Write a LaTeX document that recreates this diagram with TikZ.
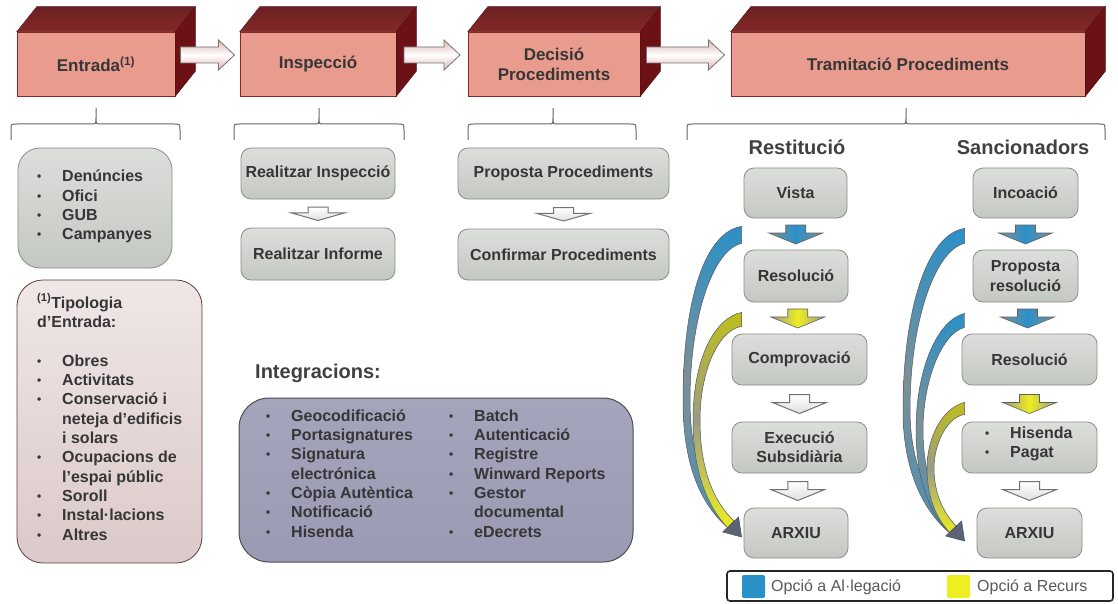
\documentclass[tikz,border=0pt]{standalone}
\usepackage{fontspec}
\setmainfont{Liberation Sans}
\usetikzlibrary{calc}

\definecolor{salmon}{HTML}{E99B8D}
\definecolor{topred}{HTML}{86282A}
\definecolor{sidered}{HTML}{6C1217}
\definecolor{txtgray}{HTML}{363636}
\definecolor{headgray}{HTML}{404040}
\definecolor{boxgray}{HTML}{C4C8C2}
\definecolor{boxline}{HTML}{8C8C8C}
\definecolor{pinkbox}{HTML}{DCC9C9}
\definecolor{lilac}{HTML}{9A9AB4}
\definecolor{alblue}{HTML}{2A90C8}
\definecolor{reyellow}{HTML}{EEEE22}
\definecolor{slate}{HTML}{7C9098}
\definecolor{olivegray}{HTML}{9A9C84}
\definecolor{headslate}{HTML}{5C6474}

\newcommand{\itm}[1]{\makebox[25pt][l]{\raisebox{1pt}{\fontsize{12}{12}\selectfont\textbullet}}#1}

\tikzset{
  stage/.style={rectangle, draw=topred, line width=0.6pt, fill=salmon,
    minimum height=64pt, inner sep=0pt, text=txtgray, align=center,
    font=\fontsize{17}{20}\selectfont\bfseries},
  topface/.style={draw=topred!70!black, line width=0.4pt, top color=topred!80!black, bottom color=topred},
  sideface/.style={draw=sidered!70!black, line width=0.4pt, fill=sidered},
  stepbox/.style={rectangle, rounded corners=10pt, draw=boxline, line width=0.8pt,
    top color=boxgray!60!white, bottom color=boxgray, text=txtgray, align=center,
    inner sep=0pt, font=\fontsize{16}{19.35}\selectfont\bfseries},
  listtext/.style={align=left, inner sep=0pt, text=txtgray,
    font=\fontsize{16}{19.35}\selectfont\bfseries},
  heading/.style={inner sep=0pt, text=headgray, font=\fontsize{20}{24}\selectfont\bfseries},
  hollowflow/.style={draw=gray!90!black, line width=1pt, top color=white, bottom color=gray!25},
  blueflow/.style={draw=gray!75!black, line width=0.6pt, left color=slate, right color=slate, middle color=alblue},
  yellowflow/.style={draw=gray!75!black, line width=0.6pt, left color=olivegray, right color=olivegray, middle color=reyellow},
  flowfill/.style={draw=gray!90!black, line width=0.8pt, top color=pinkbox!90!red, bottom color=pinkbox!90!red, middle color=white},
  alband/.style={draw=gray!70!black, line width=0.5pt, top color=alblue, bottom color=alblue!60!slate, middle color=slate},
  recband/.style={draw=gray!70!black, line width=0.5pt, top color=reyellow!80!black, bottom color=reyellow, middle color=olivegray},
  curvehead/.style={fill=headslate, draw=headslate!80!black, line width=0.5pt},
  bracket/.style={draw=gray!80!black, line width=1pt},
  pics/downarrow/.style={code={
    \draw[#1] (-10,-9) -- (10,-9) -- (10,-1) -- (27,-1) -- (0,10) -- (-27,-1) -- (-10,-1) -- cycle;
  }},
  pics/flowarrow/.style={code={
    \draw[flowfill] (-#1,-8) -- (#1-16,-8) -- (#1-16,-15) -- (#1,0) -- (#1-16,15) -- (#1-16,8) -- (-#1,8) -- cycle;
  }},
}

\begin{document}
\begin{tikzpicture}[x=1pt, y=-1pt]
\useasboundingbox (0,0) rectangle (1118,604);
\fill[white] (0,0) rectangle (1118,604);

% stages
\node[stage, minimum width=158pt] (entrada) at (96,64) {Entrada\textsuperscript{(1)}};
\node[stage, minimum width=156pt] (inspeccio) at (318,64) {Inspecció};
\node[stage, minimum width=172pt] (decisio) at (554,64) {Decisió\\Procediments};
\node[stage, minimum width=354pt] (tramitacio) at (908,64) {Tramitació Procediments};
\foreach \b in {entrada, inspeccio, decisio, tramitacio} {
  \draw[topface] (\b.north west) -- ++(20,-25) -- ($(\b.north east)+(20,-25)$) -- (\b.north east) -- cycle;
  \draw[sideface] (\b.north east) -- ++(20,-25) -- ($(\b.south east)+(20,-25)$) -- (\b.south east) -- cycle;
}
\pic at ($(entrada.east)!.5!(inspeccio.west)+(0,-9)$) {flowarrow=27};
\pic at ($(inspeccio.east)!.5!(decisio.west)+(0,-9)$) {flowarrow=28};
\pic at ($(decisio.east)!.5!(tramitacio.west)+(0,-9)$) {flowarrow=39};

% brackets
\foreach \l/\m/\r in {11/96/180, 234/319/404, 468/553/636, 687/906/1105}
  \draw[bracket] (\l,140) -- (\l,130) .. controls (\l,124) .. (\l+6,124) -- (\m-5,124)
    .. controls (\m,124) .. (\m,118) -- (\m,108) -- (\m,118) .. controls (\m,124) .. (\m+5,124)
    -- (\r-6,124) .. controls (\r,124) .. (\r,130) -- (\r,140);

% entrada
\node[stepbox, rounded corners=22pt, minimum width=154pt, minimum height=120pt] (entrades) at (95,208) {};
\node[listtext, anchor=west] (entradesTxt) at (37,206.5) {\itm{Denúncies}\\\itm{Ofici}\\\itm{GUB}\\\itm{Campanyes}};
\node[stepbox, rounded corners=26pt, draw=gray!80!red!60!black, top color=pinkbox!45!white, bottom color=pinkbox,
  minimum width=185pt, minimum height=283pt] (tipologia) at (109.5,421.5) {};
\node[listtext, anchor=west] (tipologiaTxt) at (37,417) {\textsuperscript{(1)}Tipologia\\d’Entrada:\\[19.35pt]
  \itm{Obres}\\\itm{Activitats}\\\itm{Conservació i}\\\hspace*{25pt}neteja d’edificis\\\hspace*{25pt}i solars\\
  \itm{Ocupacions de}\\\hspace*{25pt}l’espai públic\\\itm{Soroll}\\\itm{Instal·lacions}\\\itm{Altres}};

% inspeccio
\node[stepbox, minimum width=154pt, minimum height=51pt] (realInsp) at (318,173.5) {Realitzar Inspecció};
\node[stepbox, minimum width=154pt, minimum height=52pt] (realInf) at (318,254) {Realitzar Informe};
\pic[yscale=0.7] at ($(realInsp.south)!.5!(realInf.north)$) {downarrow=hollowflow};

% decisio
\node[stepbox, minimum width=211pt, minimum height=51pt] (propProc) at (563.5,173.5) {Proposta Procediments};
\node[stepbox, minimum width=211pt, minimum height=51pt] (confProc) at (563.5,254.5) {Confirmar Procediments};
\pic[yscale=0.7] at ($(propProc.south)!.5!(confProc.north)$) {downarrow=hollowflow};

% integracions
\node[heading, anchor=west] (integTitle) at (255,373) {Integracions:};
\node[rectangle, rounded corners=30pt, draw=black!70, line width=1pt, top color=lilac!90!white, bottom color=lilac,
  minimum width=394pt, minimum height=164pt] (integ) at (436,480) {};
\node[listtext, anchor=west] (integA) at (266,473.5) {\itm{Geocodificació}\\\itm{Portasignatures}\\\itm{Signatura}\\
  \hspace*{25pt}electrónica\\\itm{Còpia Autèntica}\\\itm{Notificació}\\\itm{Hisenda}};
\node[listtext, anchor=west] (integB) at (449,473.5) {\itm{Batch}\\\itm{Autenticació}\\\itm{Registre}\\
  \itm{Winward Reports}\\\itm{Gestor}\\\hspace*{25pt}documental\\\itm{eDecrets}};

% restitucio
\node[heading] (restitucio) at (797,147) {Restitució};
\node[stepbox, minimum width=103pt, minimum height=50pt] (vista) at (795.5,193) {Vista};
\node[stepbox, minimum width=104pt, minimum height=52pt] (resR) at (796,276) {Resolució};
\node[stepbox, minimum width=135pt, minimum height=51pt] (comprov) at (799.5,359.5) {Comprovació};
\node[stepbox, minimum width=135pt, minimum height=51pt] (execucio) at (799.5,447.5) {Execució\\Subsidiària};
\node[stepbox, minimum width=104pt, minimum height=50pt] (arxR) at (796,533) {ARXIU};
\pic at ($(vista.south)!.5!(resR.north)$) {downarrow=blueflow};
\pic at ($(resR.south)!.5!(comprov.north)$) {downarrow=yellowflow};
\pic at ($(comprov.south)!.5!(execucio.north)$) {downarrow=hollowflow};
\pic at ($(execucio.south)!.5!(arxR.north)$) {downarrow=hollowflow};

% sancionadors
\node[heading] (sancionadors) at (1023,147) {Sancionadors};
\node[stepbox, minimum width=105pt, minimum height=50pt] (incoacio) at (1025.5,193) {Incoació};
\node[stepbox, minimum width=105pt, minimum height=52pt] (propRes) at (1025.5,276) {Proposta\\resolució};
\node[stepbox, minimum width=135pt, minimum height=51pt] (resS) at (1029.5,359.5) {Resolució};
\node[stepbox, minimum width=135pt, minimum height=51pt] (hisenda) at (1029.5,447.5) {};
\node[listtext, anchor=west] (hisendaTxt) at (985,444) {\itm{Hisenda}\\\itm{Pagat}};
\node[stepbox, minimum width=105pt, minimum height=50pt] (arxS) at (1029.5,533) {ARXIU};
\pic at ($(incoacio.south)!.5!(propRes.north)$) {downarrow=blueflow};
\pic at ($(propRes.south)!.5!(resS.north)$) {downarrow=blueflow};
\pic at ($(resS.south)!.5!(hisenda.north)$) {downarrow=yellowflow};
\pic at ($(hisenda.south)!.5!(arxS.north)$) {downarrow=hollowflow};

% options back to arxiu
\coordinate (alR) at ($(vista.south west)+(-2,8)$);
\coordinate (recR) at ($(resR.south west)+(-2,10)$);
\coordinate (tipR) at ($(arxR.west)+(-2,4)$);
\draw[alband] (alR) .. controls (705,232) and (683,300) .. (683,400) .. controls (683,468) and (702,505) .. (728,528)
  -- (734,521) .. controls (710,500) and (690,465) .. (690,400) .. controls (690,320) and (712,250) .. ($(alR)+(0,17)$) -- cycle;
\draw[recband] (recR) .. controls (714,318) and (693,360) .. (693,420) .. controls (693,470) and (706,505) .. (728,528)
  -- (734,521) .. controls (714,502) and (700,470) .. (700,420) .. controls (700,372) and (718,330) .. ($(recR)+(0,14)$) -- cycle;
\draw[curvehead] (tipR) -- ++(-19,-5) -- ++(16,-15) -- cycle;

\coordinate (alS1) at ($(incoacio.south west)+(-8,10)$);
\coordinate (alS2) at ($(propRes.south west)+(-8,11)$);
\coordinate (recS) at ($(resS.south west)+(3,17)$);
\coordinate (tipS) at ($(arxS.west)+(-12,8)$);
\draw[alband] (alS1) .. controls (927,234) and (903,310) .. (903,410) .. controls (903,472) and (924,512) .. (951,534)
  -- (957,527) .. controls (932,508) and (910,468) .. (910,410) .. controls (910,322) and (935,250) .. ($(alS1)+(0,15)$) -- cycle;
\draw[alband] (alS2) .. controls (937,320) and (916,370) .. (916,430) .. controls (916,480) and (930,515) .. (951,534)
  -- (957,527) .. controls (938,510) and (923,478) .. (923,430) .. controls (923,380) and (942,333) .. ($(alS2)+(0,14)$) -- cycle;
\draw[recband] (recS) .. controls (942,408) and (927,438) .. (927,468) .. controls (927,498) and (936,518) .. (951,534)
  -- (957,527) .. controls (944,514) and (934,494) .. (934,468) .. controls (934,444) and (947,417) .. ($(recS)+(0,12)$) -- cycle;
\draw[curvehead] (tipS) -- ++(-19,-5) -- ++(16,-15) -- cycle;

% legend
\node[draw=black!85, line width=1.6pt, rounded corners=3pt, fill=white, minimum width=386pt, minimum height=30pt] (legend) at (920,586) {};
\node[fill=alblue, rounded corners=2pt, minimum size=23pt, inner sep=0pt] (sqBlue) at (753.5,586.5) {};
\node[anchor=west, inner sep=0pt, text=black!65, font=\fontsize{16}{19}\selectfont] (txtBlue) at (771,587) {Opció a Al·legació};
\node[fill=reyellow, rounded corners=2pt, minimum size=23pt, inner sep=0pt] (sqYellow) at (958.5,586.5) {};
\node[anchor=west, inner sep=0pt, text=black!65, font=\fontsize{16}{19}\selectfont] (txtYellow) at (977,587) {Opció a Recurs};
\end{tikzpicture}
\end{document}
